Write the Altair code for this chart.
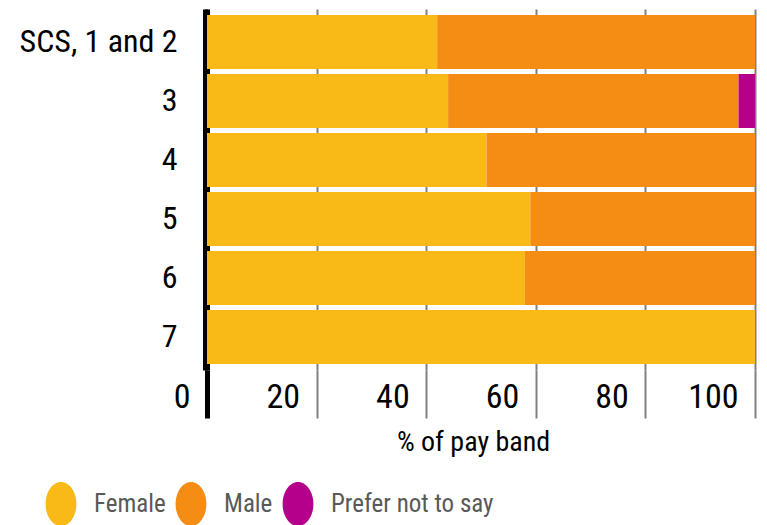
import altair as alt
import pandas as pd

# ---- data ----
bands = ["SCS, 1 and 2", "3", "4", "5", "6", "7"]
female = [42, 44, 51, 59, 58, 100]
male = [58, 53, 49, 41, 42, 0]
prefer = [0, 3, 0, 0, 0, 0]
groups = ["Female", "Male", "Prefer not to say"]
colors = ["#F9B916", "#F58C14", "#B4008A"]
x_ticks = [0, 20, 40, 60, 80, 100]

rows = []
for i, b in enumerate(bands):
    for k, vals in enumerate([female, male, prefer]):
        rows.append({"band": b, "group": groups[k], "value": vals[i], "order": k})
df = pd.DataFrame(rows)

FONT = "Liberation Sans Narrow, Arial Narrow, Roboto Condensed, DejaVu Sans Condensed, sans-serif"
ELLIPSE = "M-0.7,0A0.7,1,0,1,1,0.7,0A0.7,1,0,1,1,-0.7,0Z"

is_zero = "datum.value === 0"

x_axis = alt.Axis(
    values=x_ticks,
    domain=False,
    grid=True,
    gridColor={"condition": {"test": is_zero, "value": "black"}, "value": "#808080"},
    gridWidth={"condition": {"test": is_zero, "value": 5}, "value": 2},
    ticks=True,
    tickSize=48,
    tickColor={"condition": {"test": is_zero, "value": "black"}, "value": "#808080"},
    tickWidth={"condition": {"test": is_zero, "value": 5}, "value": 2},
    labelFont=FONT,
    labelFontSize=34,
    labelColor="black",
    labelAlign="right",
    labelOffset=-17,
    labelBaseline="alphabetic",
    labelPadding=-11,
    labelFlush=False,
    labelOverlap=False,
    title="% of pay band",
    titleFont=FONT,
    titleFontSize=28,
    titleFontWeight="normal",
    titleColor="black",
    titleX=266,
    titleY=80,
    titleAlign="center",
    titleBaseline="alphabetic",
)

y_axis = alt.Axis(
    title=None,
    domain=True,
    domainColor="black",
    domainWidth=5,
    offset=2,
    ticks=False,
    grid=False,
    labelFont=FONT,
    labelFontSize=32,
    labelColor="black",
    labelPadding=28,
    labelLimit=300,
)

legend = alt.Legend(
    title=None,
    orient="none",
    legendX=-168,
    legendY=473,
    direction="horizontal",
    symbolType=ELLIPSE,
    symbolSize=1936,
    symbolStrokeWidth=0,
    symbolOpacity=1,
    labelFont=FONT,
    labelFontSize=25,
    labelColor="#595959",
    labelOffset=11,
    labelLimit=400,
    columnPadding=3,
    padding=0,
)

chart = alt.Chart(df).mark_bar().encode(
    y=alt.Y("band:N", sort=bands,
            scale=alt.Scale(paddingInner=0.0847, paddingOuter=0.1017),
            axis=y_axis),
    x=alt.X("value:Q", stack="zero",
            scale=alt.Scale(domain=[0, 100], nice=False),
            axis=x_axis),
    color=alt.Color("group:N", scale=alt.Scale(domain=groups, range=colors), legend=legend),
    order=alt.Order("order:Q"),
).properties(
    width=548,
    height=361,
    autosize=alt.AutoSizeParams(type="none"),
    padding={"left": 207, "top": 9, "right": 12, "bottom": 155},
    background="white",
).configure_view(stroke=None)

chart.save("out.html", embed_options={"renderer": "svg", "actions": False})
